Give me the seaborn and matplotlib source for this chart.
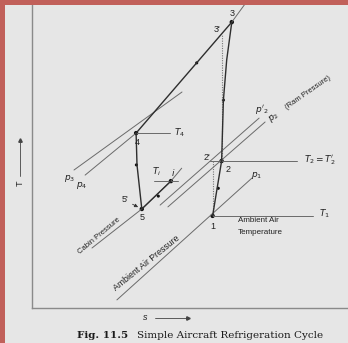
import matplotlib
matplotlib.use("Agg")
import matplotlib.pyplot as plt
from matplotlib.patches import Rectangle
import pandas as pd
import seaborn as sns

# ---- state points of the simple aircraft cycle (schematic T-s units) ----
state_names = ["1", "2'", "2", "3'", "3", "4", "5", "i"]
s_state = [6.02, 6.02, 6.32, 6.32, 6.66, 3.47, 3.66, 4.63]
T_state = [3.07, 4.90, 4.90, 9.14, 9.53, 5.83, 3.30, 4.23]

# ---- process paths ----
s_ram, T_ram = [6.02, 6.32], [3.07, 4.90]                                  # 1 -> 2
s_comp, T_comp = [6.32, 6.38, 6.49, 6.66], [4.90, 6.93, 8.27, 9.53]         # 2 -> 3
s_cool, T_cool = [6.66, 3.47], [9.53, 5.83]                                 # 3 -> 4
s_turb, T_turb = [3.47, 3.50, 3.66], [5.83, 4.77, 3.30]                     # 4 -> 5
s_cab, T_cab = [3.66, 4.63], [3.30, 4.23]                                   # 5 -> i
s_isen12, T_isen12 = [6.02, 6.02], [3.07, 4.90]                             # 1 -> 2'
s_isen23, T_isen23 = [6.32, 6.32], [4.90, 9.14]                             # 2 -> 3'

# direction marks along the processes
s_dir = [6.21, 6.38, 5.49, 3.48, 4.21]
T_dir = [3.99, 6.93, 8.17, 4.77, 3.73]

# ---- constant pressure lines ----
s_p3, T_p3 = [1.40, 5.00], [4.60, 7.20]
s_p4, T_p4 = [1.77, 3.47], [4.43, 5.83]
s_p3top, T_p3top = [6.66, 7.20], [9.53, 10.27]
s_p2r, T_p2r = [4.27, 7.57], [3.43, 6.33]      # p'2
s_p2, T_p2 = [4.53, 7.77], [3.37, 6.20]        # p2
s_p1, T_p1 = [2.83, 7.33], [0.27, 4.33]        # ambient air pressure
s_pc, T_pc = [2.00, 3.66, 4.63, 4.99], [2.00, 3.30, 4.23, 4.66]  # cabin pressure

# ---- constant temperature lines ----
s_T4, T_T4 = [3.47, 4.60], [5.83, 5.83]
s_Ti, T_Ti = [4.07, 4.87], [4.23, 4.23]
s_T2, T_T2 = [5.93, 8.83], [4.90, 4.90]
s_T1, T_T1 = [6.02, 9.37], [3.07, 3.07]

BG = "#e6e6e6"
DARK = "#2e2e2e"
THIN = "#6a6a6a"

sns.set_theme(style="white")
plt.rcParams["font.family"] = ["Liberation Sans", "DejaVu Sans"]

fig = plt.figure(figsize=(3.48, 3.43), dpi=100, facecolor=BG)
ax = fig.add_axes([32 / 348, 35 / 343, 1 - 32 / 348, 1 - 35 / 343])
ax.set_facecolor(BG)
ax.set_xlim(0, 316 / 30)
ax.set_ylim(0, 308 / 30)


def curve(xs, ys, color=THIN, lw=0.7, ls="-"):
    sns.lineplot(x=xs, y=ys, ax=ax, sort=False, estimator=None,
                 color=color, lw=lw, linestyle=ls, legend=False)


# thin reference lines
for xs, ys in [(s_p3, T_p3), (s_p4, T_p4), (s_p3top, T_p3top), (s_p2r, T_p2r),
               (s_p2, T_p2), (s_p1, T_p1), (s_pc, T_pc),
               (s_T4, T_T4), (s_Ti, T_Ti), (s_T2, T_T2), (s_T1, T_T1)]:
    curve(xs, ys)

# isentropic (dotted) paths
curve(s_isen12, T_isen12, color="#777777", lw=0.8, ls=(0, (1, 1.2)))
curve(s_isen23, T_isen23, color="#777777", lw=0.8, ls=(0, (1, 1.2)))

# cycle processes
for xs, ys in [(s_ram, T_ram), (s_comp, T_comp), (s_cool, T_cool),
               (s_turb, T_turb), (s_cab, T_cab)]:
    curve(xs, ys, color=DARK, lw=1.0)

pts = pd.DataFrame({"s": s_state, "T": T_state, "name": state_names})
marked = pts[~pts["name"].isin(["2'", "3'"])]
sns.scatterplot(data=marked, x="s", y="T", ax=ax, s=10, color="#111111",
                edgecolor="none", legend=False)
sns.scatterplot(x=s_dir, y=T_dir, ax=ax, s=5, color="#111111",
                edgecolor="none", legend=False)

ax.set_xlabel("")
ax.set_ylabel("")
ax.set_xticks([])
ax.set_yticks([])
for side in ["top", "right"]:
    ax.spines[side].set_visible(False)
for side in ["left", "bottom"]:
    ax.spines[side].set_color("#8a8a8a")
    ax.spines[side].set_linewidth(1.0)

lab = dict(fontsize=6.5, color="#222222", ha="center", va="center")
ax.text(6.66, 9.83, "3", **lab)
ax.text(6.16, 9.27, "3'", **lab)
ax.text(3.50, 5.53, "4", **lab)
ax.text(4.73, 5.83, "$T_4$", fontsize=6.5, color="#222222", ha="left", va="center")
ax.text(3.67, 3.00, "5", **lab)
ax.text(3.10, 3.62, "5'", **lab)
ax.annotate("", xy=(3.62, 3.32), xytext=(3.27, 3.50),
            arrowprops=dict(arrowstyle="-|>", lw=0.6, color="#333333",
                            mutation_scale=5))
ax.text(4.17, 4.53, "$T_i$", **lab)
ax.text(4.70, 4.53, "$i$", **lab)
ax.text(6.03, 2.73, "1", **lab)
ax.text(6.53, 4.62, "2", **lab)
ax.text(5.83, 5.02, "2'", **lab)
ax.text(9.05, 4.93, "$T_2 = T_2'$", fontsize=6.5, color="#222222", ha="left", va="center")
ax.text(9.55, 3.15, "$T_1$", fontsize=6.5, color="#222222", ha="left", va="center")
ax.text(7.50, 4.43, "$p_1$", **lab)
ax.text(7.65, 6.62, "$p'_2$", **lab)
ax.text(8.07, 6.37, "$p_2$", fontsize=6.5, color="#222222", ha="center",
        va="center", rotation=38)
ax.text(9.20, 7.17, "(Ram Pressure)", fontsize=5.5, color="#222222",
        ha="center", va="center", rotation=35, rotation_mode="anchor")
ax.text(1.27, 4.33, "$p_3$", **lab)
ax.text(1.67, 4.07, "$p_4$", **lab)
ax.text(2.25, 2.42, "Cabin Pressure", fontsize=5.5, color="#222222",
        ha="center", va="center", rotation=40, rotation_mode="anchor")
ax.text(3.83, 1.50, "Ambient Air Pressure", fontsize=6.3, color="#222222",
        ha="center", va="center", rotation=39, rotation_mode="anchor")
ax.text(6.87, 2.90, "Ambient Air", fontsize=5.8, color="#222222", ha="left", va="center")
ax.text(6.87, 2.53, "Temperature", fontsize=5.8, color="#222222", ha="left", va="center")

# axis symbols with arrows
fig.text(20 / 348, 1 - 183 / 343, "T", fontsize=6.5, rotation=90,
         ha="center", va="center", color="#222222")
fig.add_artist(plt.Line2D([20 / 348, 20 / 348], [1 - 176 / 343, 1 - 140 / 343],
                          color="#444444", lw=0.6))
fig.add_artist(plt.Line2D([20 / 348], [1 - 140 / 343], marker="^", ms=2.5,
                          color="#444444"))
fig.text(145 / 348, 1 - 318 / 343, "s", fontsize=6.5, style="italic",
         ha="center", va="center", color="#222222")
fig.add_artist(plt.Line2D([155 / 348, 188 / 348], [1 - 318 / 343, 1 - 318 / 343],
                          color="#444444", lw=0.6))
fig.add_artist(plt.Line2D([188 / 348], [1 - 318 / 343], marker=">", ms=2.5,
                          color="#444444"))

# caption
fig.text(77 / 348, 1 - 335 / 343, "Fig. 11.5", fontsize=7.5, fontweight="bold",
         family="DejaVu Serif", ha="left", va="center", color="#1a1a1a")
fig.text(137 / 348, 1 - 335 / 343, "Simple Aircraft Refrigeration Cycle",
         fontsize=7.5, family="DejaVu Serif", ha="left", va="center", color="#1a1a1a")

# page edge strips
fig.add_artist(Rectangle((0, 0), 5 / 348, 1, transform=fig.transFigure,
                         facecolor="#c1605a", edgecolor="none", zorder=10))
fig.add_artist(Rectangle((0, 1 - 5 / 343), 1, 5 / 343, transform=fig.transFigure,
                         facecolor="#c1605a", edgecolor="none", zorder=10))

fig.savefig("out.png", dpi=100, facecolor=BG)
